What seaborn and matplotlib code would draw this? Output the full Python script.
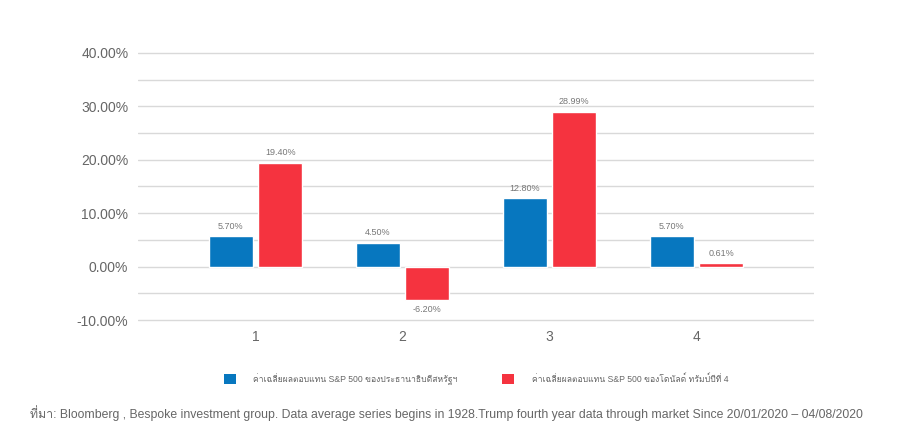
import matplotlib
matplotlib.use("Agg")
import matplotlib.pyplot as plt
import seaborn as sns
import pandas as pd
from matplotlib.patches import Patch

categories = ["1", "2", "3", "4"]
series_names = ["ค่าเฉลี่ยผลตอบแทน S&P 500 ของประธานาธิบดีสหรัฐฯ",
                "ค่าเฉลี่ยผลตอบแทน S&P 500 ของโดนัลด์ ทรัมป์ปีที่ 4"]
blue_values = [5.70, 4.50, 12.80, 5.70]
red_values = [19.40, -6.20, 28.99, 0.61]
blue_labels = ["5.70%", "4.50%", "12.80%", "5.70%"]
red_labels = ["19.40%", "-6.20%", "28.99%", "0.61%"]
ytick_values = [-10, 0, 10, 20, 30, 40]
footnote = ("ที่มา: Bloomberg , Bespoke investment group. Data average series begins in 1928."
            "Trump fourth year data through market Since 20/01/2020 – 04/08/2020")

colors = ["#0777BF", "#F5333F"]

sns.set_theme(style="white")
plt.rcParams["font.family"] = ["Liberation Sans", "Loma", "DejaVu Sans"]

df = pd.DataFrame({
    "cat": categories * 2,
    "series": [series_names[0]] * 4 + [series_names[1]] * 4,
    "value": blue_values + red_values,
})

fig = plt.figure(figsize=(9.04, 4.44), dpi=100)
ax = fig.add_axes([138 / 904, 1 - 322 / 444, (814 - 138) / 904, (322 - 51) / 444])

sns.barplot(data=df, x="cat", y="value", hue="series", palette=colors,
            width=0.67, gap=0.1, ax=ax, legend=False, saturation=1)

ax.set_xlim(-0.8, 3.8)
ax.set_ylim(-10.37, 40.37)
ax.set_yticks(ytick_values)
ax.set_yticklabels([f"{v:.2f}%" for v in ytick_values])
ax.set_yticks(range(-10, 41, 5), minor=True)
ax.grid(axis="y", which="both", color="#D9D9D9", linewidth=1)
ax.set_axisbelow(True)
for s in ax.spines.values():
    s.set_visible(False)
ax.tick_params(axis="y", which="both", length=0, labelsize=10, labelcolor="#666666", pad=7)
ax.tick_params(axis="x", length=0, labelsize=10, labelcolor="#666666", pad=6)
ax.set_xlabel("")
ax.set_ylabel("")

for cont, labs in zip(ax.containers, [blue_labels, red_labels]):
    ax.bar_label(cont, labels=labs, padding=4, fontsize=6.5, color="#777777")

handles = [Patch(facecolor=c, edgecolor="none") for c in colors]
leg = fig.legend(handles, series_names, loc="center left",
                 bbox_to_anchor=(224 / 904, 1 - 379 / 444), ncol=2, frameon=False,
                 fontsize=6.2, handlelength=1.4, handleheight=1.4,
                 handletextpad=2.0, columnspacing=5.2, borderpad=0, borderaxespad=0)
for t in leg.get_texts():
    t.set_color("#666666")

fig.text(30 / 904, 1 - 413 / 444, footnote, fontsize=8.85, color="#666666", va="center", ha="left")

fig.savefig("out.png", dpi=100)
